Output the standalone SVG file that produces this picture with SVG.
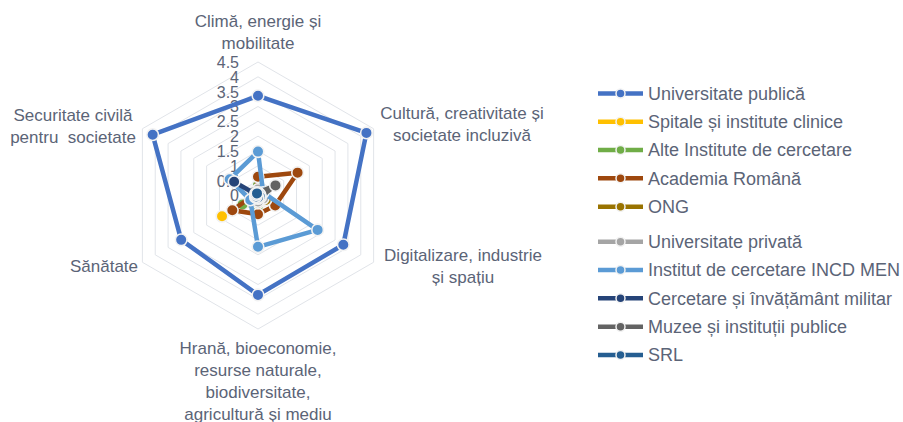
<svg xmlns="http://www.w3.org/2000/svg" width="903" height="422" viewBox="0 0 903 422">
<style>
  .grid polygon { fill: none; stroke: #e1e4e9; stroke-width: 1; }
  text { font-family: "Liberation Sans", Arial, sans-serif; fill: #5b6477; }
  .tick { font-size: 16px; text-anchor: end; }
  .ax { font-size: 17px; text-anchor: middle; }
  .lg { font-size: 18px; }
  .s polyline, .s polygon { fill: none; stroke-width: 4.5; stroke-linejoin: round; }
  .s circle { stroke: #f2f2f2; stroke-width: 1.6; }
  .leg line { stroke-width: 4.5; }
  .leg circle { stroke: #f2f2f2; stroke-width: 1.5; }
</style>
<rect width="903" height="422" fill="#ffffff"/>

<g id="grid" class="grid">
  <polygon points="258,180.67 270.85,188.08 270.85,202.92 258,210.33 245.15,202.92 245.15,188.08"/>
  <polygon points="258,165.83 283.69,180.67 283.69,210.33 258,225.17 232.31,210.33 232.31,180.67"/>
  <polygon points="258,151 296.54,173.25 296.54,217.75 258,240 219.46,217.75 219.46,173.25"/>
  <polygon points="258,136.17 309.38,165.83 309.38,225.17 258,254.83 206.62,225.17 206.62,165.83"/>
  <polygon points="258,121.33 322.23,158.42 322.23,232.58 258,269.67 193.77,232.58 193.77,158.42"/>
  <polygon points="258,106.5 335.07,151 335.07,240 258,284.5 180.93,240 180.93,151"/>
  <polygon points="258,91.67 347.92,143.58 347.92,247.42 258,299.33 168.08,247.42 168.08,143.58"/>
  <polygon points="258,76.83 360.77,136.17 360.77,254.83 258,314.17 155.23,254.83 155.23,136.17"/>
  <polygon points="258,62 373.61,128.75 373.61,262.25 258,329 142.39,262.25 142.39,128.75"/>
</g>

<g id="tick-labels">
  <text class="tick" x="239" y="201.3">0</text>
  <text class="tick" x="239" y="186.5">0.5</text>
  <text class="tick" x="239" y="171.6">1</text>
  <text class="tick" x="239" y="156.8">1.5</text>
  <text class="tick" x="239" y="142">2</text>
  <text class="tick" x="239" y="127.1">2.5</text>
  <text class="tick" x="239" y="112.3">3</text>
  <text class="tick" x="239" y="97.5">3.5</text>
  <text class="tick" x="239" y="82.6">4</text>
  <text class="tick" x="239" y="67.8">4.5</text>
</g>

<g id="axis-labels">
  <g id="ax-clima">
    <text class="ax" x="258" y="27">Climă, energie și</text>
    <text class="ax" x="258" y="49">mobilitate</text>
  </g>
  <g id="ax-cultura">
    <text class="ax" x="462" y="119">Cultură, creativitate și</text>
    <text class="ax" x="462" y="141">societate incluzivă</text>
  </g>
  <g id="ax-digitalizare">
    <text class="ax" x="463" y="261">Digitalizare, industrie</text>
    <text class="ax" x="463" y="283">și spațiu</text>
  </g>
  <g id="ax-hrana">
    <text class="ax" x="258" y="354">Hrană, bioeconomie,</text>
    <text class="ax" x="258" y="376">resurse naturale,</text>
    <text class="ax" x="258" y="398">biodiversitate,</text>
    <text class="ax" x="258" y="420">agricultură și mediu</text>
  </g>
  <g id="ax-sanatate">
    <text class="ax" x="104" y="272">Sănătate</text>
  </g>
  <g id="ax-securitate">
    <text class="ax" x="73" y="121">Securitate civilă</text>
    <text class="ax" x="73" y="143" xml:space="preserve">pentru  societate</text>
  </g>
</g>

<g id="series">
  <g id="s-universitate-publica" class="s">
    <polygon stroke="#4472c4" points="258,95.82 366.42,132.9 343.3,244.75 258,294.88 181.18,239.85 152.66,134.68"/>
    <g fill="#4472c4">
      <circle cx="258" cy="95.82" r="5.8"/><circle cx="366.42" cy="132.9" r="5.8"/><circle cx="343.3" cy="244.75" r="5.8"/>
      <circle cx="258" cy="294.88" r="5.8"/><circle cx="181.18" cy="239.85" r="5.8"/><circle cx="152.66" cy="134.68" r="5.8"/>
    </g>
  </g>
  <g id="s-spitale" class="s">
    <polygon stroke="#ffc000" points="258,195.5 258,195.5 260.57,196.98 258,198.47 222.03,216.27 258,195.5"/>
    <g fill="#ffc000">
      <circle cx="258" cy="195.5" r="5.8"/><circle cx="260.57" cy="196.98" r="5.8"/>
      <circle cx="258" cy="198.47" r="5.8"/><circle cx="222.03" cy="216.27" r="5.8"/>
    </g>
  </g>
  <g id="s-alte-institute" class="s">
    <polygon stroke="#70ad47" points="258,185.12 264.42,191.79 264.42,199.21 258,205.88 242.58,204.4 252.86,192.53"/>
    <g fill="#70ad47">
      <circle cx="258" cy="185.12" r="5.8"/><circle cx="264.42" cy="191.79" r="5.8"/><circle cx="264.42" cy="199.21" r="5.8"/>
      <circle cx="258" cy="205.88" r="5.8"/><circle cx="242.58" cy="204.4" r="5.8"/><circle cx="252.86" cy="192.53" r="5.8"/>
    </g>
  </g>
  <g id="s-academia" class="s">
    <polygon stroke="#9e480e" points="258,176.81 297.57,172.66 275.21,205.44 258,214.19 232.31,210.33 255.43,194.02"/>
    <g fill="#9e480e">
      <circle cx="258" cy="176.81" r="5.8"/><circle cx="297.57" cy="172.66" r="5.8"/><circle cx="275.21" cy="205.44" r="5.8"/>
      <circle cx="258" cy="214.19" r="5.8"/><circle cx="232.31" cy="210.33" r="5.8"/><circle cx="255.43" cy="194.02" r="5.8"/>
    </g>
  </g>
  <g id="s-ong" class="s">
    <polygon stroke="#997300" points="258,192.53 260.57,194.02 265.71,199.95 258,202.92 255.43,196.98 255.43,194.02"/>
    <g fill="#997300">
      <circle cx="258" cy="192.53" r="5.8"/><circle cx="260.57" cy="194.02" r="5.8"/><circle cx="265.71" cy="199.95" r="5.8"/>
      <circle cx="258" cy="202.92" r="5.8"/><circle cx="255.43" cy="196.98" r="5.8"/><circle cx="255.43" cy="194.02" r="5.8"/>
    </g>
  </g>
  <g id="s-universitate-privata" class="s">
    <polygon stroke="#a5a5a5" points="258,189.57 263.14,192.53 263.14,198.47 258,201.43 252.86,198.47 252.86,192.53"/>
    <g fill="#a5a5a5">
      <circle cx="258" cy="189.57" r="5.8"/><circle cx="263.14" cy="192.53" r="5.8"/><circle cx="263.14" cy="198.47" r="5.8"/>
      <circle cx="258" cy="201.43" r="5.8"/><circle cx="252.86" cy="198.47" r="5.8"/><circle cx="252.86" cy="192.53" r="5.8"/>
    </g>
  </g>
  <g id="s-incd" class="s">
    <polygon stroke="#5b9bd5" points="258,151.59 263.14,192.53 317.61,229.91 258,246.82 250.29,199.95 229.74,179.18"/>
    <g fill="#5b9bd5">
      <circle cx="258" cy="151.59" r="5.8"/><circle cx="263.14" cy="192.53" r="5.8"/><circle cx="317.61" cy="229.91" r="5.8"/>
      <circle cx="258" cy="246.82" r="5.8"/><circle cx="250.29" cy="199.95" r="5.8"/><circle cx="229.74" cy="179.18" r="5.8"/>
    </g>
  </g>
  <g id="s-militar" class="s">
    <polygon stroke="#264478" points="258,195.5 258,195.5 258,195.5 258,195.5 258,195.5 234.11,181.7"/>
    <g fill="#264478">
      <circle cx="258" cy="195.5" r="5.8"/><circle cx="234.11" cy="181.7" r="5.8"/>
    </g>
  </g>
  <g id="s-muzee" class="s">
    <polygon stroke="#636363" points="258,192.53 275.47,185.41 260.57,196.98 258,198.47 255.43,196.98 255.43,194.02"/>
    <g fill="#636363">
      <circle cx="258" cy="192.53" r="5.8"/><circle cx="275.47" cy="185.41" r="5.8"/><circle cx="260.57" cy="196.98" r="5.8"/>
      <circle cx="258" cy="198.47" r="5.8"/><circle cx="255.43" cy="196.98" r="5.8"/><circle cx="255.43" cy="194.02" r="5.8"/>
    </g>
  </g>
  <g id="s-srl" class="s">
    <polygon stroke="#255e91" points="258,193.42 259.8,194.46 259.8,196.54 258,197.58 256.2,196.54 256.2,194.46"/>
    <g fill="#255e91">
      <circle cx="259.8" cy="194.46" r="5.8"/><circle cx="259.8" cy="196.54" r="5.8"/><circle cx="258" cy="197.58" r="5.8"/>
      <circle cx="256.2" cy="196.54" r="5.8"/><circle cx="256.2" cy="194.46" r="5.8"/><circle cx="257" cy="193.4" r="5.8"/>
    </g>
  </g>
</g>

<g id="legend" class="leg">
  <g id="lg-1"><line x1="598" y1="93.5" x2="643" y2="93.5" stroke="#4472c4"/><circle cx="620.5" cy="93.5" r="4.5" fill="#4472c4"/><text class="lg" x="648" y="99.8">Universitate publică</text></g>
  <g id="lg-2"><line x1="598" y1="121.7" x2="643" y2="121.7" stroke="#ffc000"/><circle cx="620.5" cy="121.7" r="4.5" fill="#ffc000"/><text class="lg" x="648" y="128">Spitale și institute clinice</text></g>
  <g id="lg-3"><line x1="598" y1="150" x2="643" y2="150" stroke="#70ad47"/><circle cx="620.5" cy="150" r="4.5" fill="#70ad47"/><text class="lg" x="648" y="156.3">Alte Institute de cercetare</text></g>
  <g id="lg-4"><line x1="598" y1="178.3" x2="643" y2="178.3" stroke="#9e480e"/><circle cx="620.5" cy="178.3" r="4.5" fill="#9e480e"/><text class="lg" x="648" y="184.6">Academia Română</text></g>
  <g id="lg-5"><line x1="598" y1="206.7" x2="643" y2="206.7" stroke="#997300"/><circle cx="620.5" cy="206.7" r="4.5" fill="#997300"/><text class="lg" x="648" y="213">ONG</text></g>
  <g id="lg-6"><line x1="598" y1="241.7" x2="643" y2="241.7" stroke="#a5a5a5"/><circle cx="620.5" cy="241.7" r="4.5" fill="#a5a5a5"/><text class="lg" x="648" y="248">Universitate privată</text></g>
  <g id="lg-7"><line x1="598" y1="270" x2="643" y2="270" stroke="#5b9bd5"/><circle cx="620.5" cy="270" r="4.5" fill="#5b9bd5"/><text class="lg" x="648" y="276.3">Institut de cercetare INCD MEN</text></g>
  <g id="lg-8"><line x1="598" y1="298.3" x2="643" y2="298.3" stroke="#264478"/><circle cx="620.5" cy="298.3" r="4.5" fill="#264478"/><text class="lg" x="648" y="304.6">Cercetare și învățământ militar</text></g>
  <g id="lg-9"><line x1="598" y1="326.7" x2="643" y2="326.7" stroke="#636363"/><circle cx="620.5" cy="326.7" r="4.5" fill="#636363"/><text class="lg" x="648" y="333">Muzee și instituții publice</text></g>
  <g id="lg-10"><line x1="598" y1="355" x2="643" y2="355" stroke="#255e91"/><circle cx="620.5" cy="355" r="4.5" fill="#255e91"/><text class="lg" x="648" y="361.3">SRL</text></g>
</g>
</svg>
